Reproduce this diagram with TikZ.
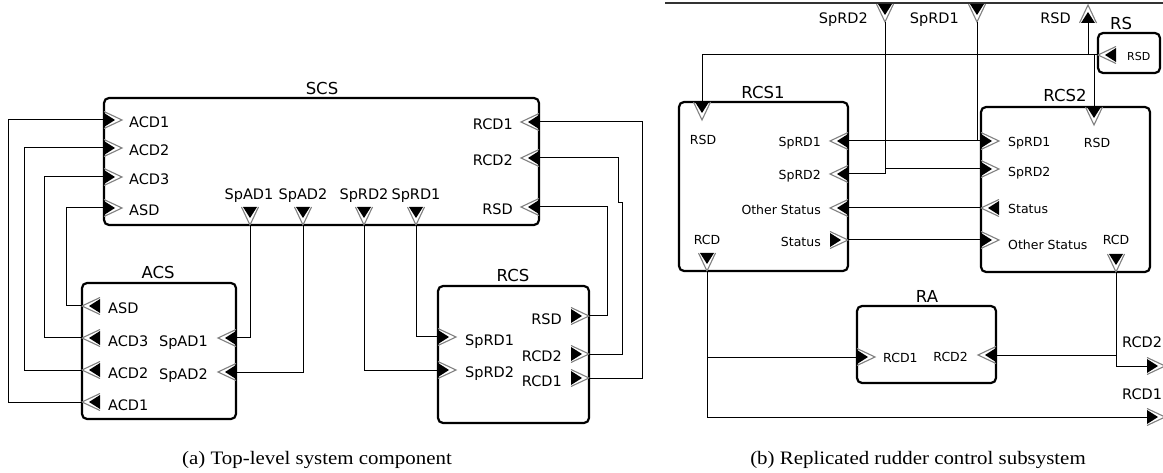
\documentclass[tikz,border=0pt]{standalone}
\usepackage{fontspec}
\setmainfont{Liberation Serif}
\newfontfamily\labfont{DejaVu Sans}
\usetikzlibrary{calc}
\tikzset{
  box/.style={draw, line width=2.2pt, rounded corners=5pt, inner sep=0pt, outer sep=0pt},
  wire/.style={line width=1pt},
  lbl/.style={inner sep=0pt, text height=10.5pt, text depth=0pt, font=\labfont\fontsize{14.5}{16}\selectfont},
  slbl/.style={inner sep=0pt, text height=9pt, text depth=0pt, font=\labfont\fontsize{12.5}{14}\selectfont},
  tlbl/.style={inner sep=0pt, text height=8pt, text depth=0pt, font=\labfont\fontsize{11}{13}\selectfont},
  ttl/.style={inner sep=0pt, text height=12pt, text depth=0pt, font=\labfont\fontsize{16.5}{19}\selectfont},
  captxt/.style={inner sep=0pt, xscale=1.1, font=\fontsize{19}{23}\selectfont},
  pics/portR/.style={code={\fill[black] (0,-7)--(11,0)--(0,7)--cycle; \draw[gray, line width=1.1pt] (0,-8.5)--(18,0)--(0,8.5);}},
  pics/portL/.style={code={\fill[black] (0,-7)--(-11,0)--(0,7)--cycle; \draw[gray, line width=1.1pt] (0,-8.5)--(-18,0)--(0,8.5);}},
  pics/portD/.style={code={\fill[black] (-7,0)--(0,11)--(7,0)--cycle; \draw[gray, line width=1.1pt] (-8.5,0)--(0,18)--(8.5,0);}},
  pics/portU/.style={code={\fill[black] (-7,0)--(0,-11)--(7,0)--cycle; \draw[gray, line width=1.1pt] (-8.5,0)--(0,-18)--(8.5,0);}}
}
\begin{document}
\begin{tikzpicture}[x=1pt, y=-1pt]
\useasboundingbox (0,0) rectangle (1163,473);
\clip (0,0) rectangle (1163,473);

% ================= (a) =================
\node[box, minimum width=435pt, minimum height=127pt] (scs) at (321.5,161.5) {};
\node[ttl] (scsT) at (322,89) {SCS};
\node[box, minimum width=154pt, minimum height=136pt] (acs) at (159,351) {};
\node[ttl] (acsT) at (158,273) {ACS};
\node[box, minimum width=151pt, minimum height=137pt] (rcs) at (513.5,354.5) {};
\node[ttl] (rcsT) at (513,276) {RCS};

% SCS ports
\coordinate (scsACD1) at (104,120); \pic at (scsACD1) {portR};
\coordinate (scsACD2) at (104,148); \pic at (scsACD2) {portR};
\coordinate (scsACD3) at (104,177); \pic at (scsACD3) {portR};
\coordinate (scsASD)  at (104,208); \pic at (scsASD) {portR};
\node[lbl, anchor=west] (lscsACD1) at (129,122) {ACD1};
\node[lbl, anchor=west] (lscsACD2) at (129,150) {ACD2};
\node[lbl, anchor=west] (lscsACD3) at (129,179) {ACD3};
\node[lbl, anchor=west] (lscsASD)  at (129,210) {ASD};
\coordinate (scsSpAD1) at (250,225); \pic at (250,207) {portD};
\coordinate (scsSpAD2) at (303,225); \pic at (303,207) {portD};
\coordinate (scsSpRD2) at (364,225); \pic at (364,207) {portD};
\coordinate (scsSpRD1) at (416,225); \pic at (416,207) {portD};
\node[lbl] (lscsSpAD1) at (249,194) {SpAD1};
\node[lbl] (lscsSpAD2) at (303,194) {SpAD2};
\node[lbl] (lscsSpRD2) at (364,194) {SpRD2};
\node[lbl] (lscsSpRD1) at (416,194) {SpRD1};
\coordinate (scsRCD1) at (539,122); \pic at (scsRCD1) {portL};
\coordinate (scsRCD2) at (539,158); \pic at (scsRCD2) {portL};
\coordinate (scsRSD)  at (539,207); \pic at (scsRSD) {portL};
\node[lbl, anchor=east] (lscsRCD1) at (513,124) {RCD1};
\node[lbl, anchor=east] (lscsRCD2) at (513,160) {RCD2};
\node[lbl, anchor=east] (lscsRSD)  at (513,209) {RSD};

% ACS ports
\coordinate (acsASD)  at (82,306); \pic at (100,306) {portL};
\coordinate (acsACD3) at (82,338); \pic at (100,338) {portL};
\coordinate (acsACD2) at (82,370); \pic at (100,370) {portL};
\coordinate (acsACD1) at (82,402); \pic at (100,402) {portL};
\node[lbl, anchor=west] (lacsASD)  at (108,308) {ASD};
\node[lbl, anchor=west] (lacsACD3) at (108,341) {ACD3};
\node[lbl, anchor=west] (lacsACD2) at (108,373) {ACD2};
\node[lbl, anchor=west] (lacsACD1) at (108,405) {ACD1};
\coordinate (acsSpAD1) at (236,338); \pic at (acsSpAD1) {portL};
\coordinate (acsSpAD2) at (236,372); \pic at (acsSpAD2) {portL};
\node[lbl, anchor=east] (lacsSpAD1) at (208,341) {SpAD1};
\node[lbl, anchor=east] (lacsSpAD2) at (208,374) {SpAD2};

% RCS ports
\coordinate (rcsSpRD1) at (438,337); \pic at (rcsSpRD1) {portR};
\coordinate (rcsSpRD2) at (438,370); \pic at (rcsSpRD2) {portR};
\node[lbl, anchor=west] (lrcsSpRD1) at (465,340) {SpRD1};
\node[lbl, anchor=west] (lrcsSpRD2) at (465,372) {SpRD2};
\coordinate (rcsRSD)  at (589,316); \pic at (571,316) {portR};
\coordinate (rcsRCD2) at (589,354); \pic at (571,354) {portR};
\coordinate (rcsRCD1) at (589,378); \pic at (571,378) {portR};
\node[lbl, anchor=east] (lrcsRSD)  at (562,319) {RSD};
\node[lbl, anchor=east] (lrcsRCD2) at (562,356) {RCD2};
\node[lbl, anchor=east] (lrcsRCD1) at (562,381) {RCD1};

% wires (a)
\draw[wire] (acsACD1) -- ++(-74,0) |- (scsACD1);
\draw[wire] (acsACD2) -- ++(-58,0) |- (scsACD2);
\draw[wire] (acsACD3) -- ++(-38,0) |- (scsACD3);
\draw[wire] (acsASD)  -- ++(-16,0) |- (scsASD);
\draw[wire] (scsSpAD1) |- (acsSpAD1);
\draw[wire] (scsSpAD2) |- (acsSpAD2);
\draw[wire] (scsSpRD2) |- (rcsSpRD2);
\draw[wire] (scsSpRD1) |- (rcsSpRD1);
\draw[wire] (rcsRSD) -- ++(18,0) |- (scsRSD);
\draw[wire] (rcsRCD2) -| (622,203) -- (618,203) |- (scsRCD2);
\draw[wire] (rcsRCD1) -- ++(53,0) |- (scsRCD1);

% ================= (b) =================
\coordinate (topL) at (665,3);
\coordinate (topR) at (1163,3);
\draw[line width=1.3pt, black!80] (topL) -- (topR);

\coordinate (topSpRD2) at (885,22); \pic at (885,4) {portD};
\coordinate (topSpRD1) at (977,22); \pic at (977,4) {portD};
\coordinate (topRSD) at (1088,23); \pic at (topRSD) {portU};
\node[lbl, anchor=east] (ltopSpRD2) at (868,18) {SpRD2};
\node[lbl, anchor=east] (ltopSpRD1) at (959,18) {SpRD1};
\node[lbl, anchor=east] (ltopRSD)  at (1071,18) {RSD};

\node[box, minimum width=62pt, minimum height=40pt] (rs) at (1129,53) {};
\node[ttl] (rsT) at (1121,24) {RS};
\coordinate (rsRSD) at (1098,55); \pic at (1116,55) {portL};
\node[tlbl, anchor=west] (lrsRSD) at (1127,57) {RSD};

\node[box, minimum width=169pt, minimum height=169pt] (rcs1) at (763.5,186.5) {};
\node[ttl] (rcs1T) at (763,93) {RCS1};
\coordinate (rcs1RSD) at (702,102); \pic at (rcs1RSD) {portD};
\node[slbl] (lrcs1RSD) at (703,140) {RSD};
\coordinate (rcs1SpRD1) at (848,141); \pic at (rcs1SpRD1) {portL};
\coordinate (rcs1SpRD2) at (848,174); \pic at (rcs1SpRD2) {portL};
\coordinate (rcs1Other) at (848,208); \pic at (rcs1Other) {portL};
\coordinate (rcs1Status) at (848,240); \pic at (830,240) {portR};
\node[slbl, anchor=east] (lrcs1SpRD1) at (821,142) {SpRD1};
\node[slbl, anchor=east] (lrcs1SpRD2) at (821,175) {SpRD2};
\node[slbl, anchor=east] (lrcs1Other) at (821,210) {Other Status};
\node[slbl, anchor=east] (lrcs1Status) at (821,242) {Status};
\coordinate (rcs1RCD) at (707,271); \pic at (707,253) {portD};
\node[slbl] (lrcs1RCD) at (707,240) {RCD};

\node[box, minimum width=169pt, minimum height=165pt] (rcs2) at (1065.5,189.5) {};
\node[ttl] (rcs2T) at (1065,96) {RCS2};
\coordinate (rcs2RSD) at (1094,107); \pic at (rcs2RSD) {portD};
\node[slbl] (lrcs2RSD) at (1097,143) {RSD};
\coordinate (rcs2SpRD1) at (981,141); \pic at (rcs2SpRD1) {portR};
\coordinate (rcs2SpRD2) at (981,169); \pic at (rcs2SpRD2) {portR};
\coordinate (rcs2Status) at (981,208); \pic at (999,208) {portL};
\coordinate (rcs2Other) at (981,240); \pic at (rcs2Other) {portR};
\node[slbl, anchor=west] (lrcs2SpRD1) at (1008,142) {SpRD1};
\node[slbl, anchor=west] (lrcs2SpRD2) at (1008,172) {SpRD2};
\node[slbl, anchor=west] (lrcs2Status) at (1008,209) {Status};
\node[slbl, anchor=west] (lrcs2Other) at (1008,245) {Other Status};
\coordinate (rcs2RCD) at (1116,272); \pic at (1116,254) {portD};
\node[slbl] (lrcs2RCD) at (1116,240) {RCD};

\node[box, minimum width=139pt, minimum height=77pt] (ra) at (926.5,344.5) {};
\node[ttl] (raT) at (927,297) {RA};
\coordinate (raRCD1) at (857,357); \pic at (raRCD1) {portR};
\coordinate (raRCD2) at (996,355); \pic at (raRCD2) {portL};
\node[slbl, anchor=west] (lraRCD1) at (883,358) {RCD1};
\node[slbl, anchor=east] (lraRCD2) at (968,357) {RCD2};

\coordinate (outRCD2) at (1147,366); \pic at (outRCD2) {portR};
\coordinate (outRCD1) at (1147,417); \pic at (outRCD1) {portR};
\node[lbl, anchor=west] (loutRCD2) at (1122,342) {RCD2};
\node[lbl, anchor=west] (loutRCD1) at (1122,394) {RCD1};

% wires (b)
\draw[wire] (rsRSD) -| (rcs1RSD);
\draw[wire] (topRSD) -- (topRSD |- rsRSD);
\draw[wire] (rcs2RSD) |- (rsRSD);
\draw[wire] (topSpRD2) |- (rcs1SpRD2);
\draw[wire] (topSpRD2 |- rcs2SpRD2) -- (rcs2SpRD2);
\draw[wire] (topSpRD1) -- (topSpRD1 |- rcs2SpRD1);
\draw[wire] (rcs1SpRD1) -- (rcs2SpRD1);
\draw[wire] (rcs2Status) -- (rcs1Other);
\draw[wire] (rcs1Status) -- (rcs2Other);
\draw[wire] (rcs1RCD) |- (outRCD1);
\draw[wire] (rcs1RCD |- raRCD1) -- (raRCD1);
\draw[wire] (rcs2RCD) |- (outRCD2);
\draw[wire] (raRCD2) -- (rcs2RCD |- raRCD2);

% captions
\node[captxt] (capA) at (317,460) {(a) Top-level system component};
\node[captxt] (capB) at (918,460) {(b) Replicated rudder control subsystem};
\end{tikzpicture}
\end{document}
